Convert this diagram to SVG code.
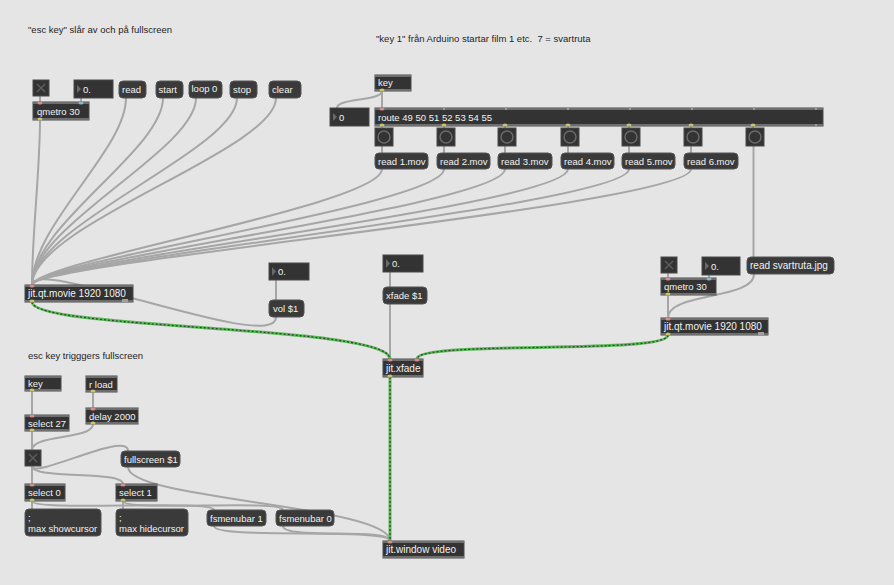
<svg xmlns="http://www.w3.org/2000/svg" width="894" height="585" viewBox="0 0 894 585">
<style>
.bg{fill:#e5e5e5}
.obj{fill:#333333;stroke:#4a4a4a;stroke-width:1}
.strip{fill:#6e6e6e}
.msg{fill:#3a3a3a;stroke:#555555;stroke-width:1}
.num{fill:#333333;stroke:#4a4a4a;stroke-width:1}
.tri{fill:#6a6a6a}
.tog{fill:#333333;stroke:#4a4a4a;stroke-width:1}
.x{stroke:#5e5e5e;stroke-width:1.4}
.bang{fill:#333333;stroke:#4a4a4a;stroke-width:1}
.ring{fill:none;stroke:#6a6a6a;stroke-width:1.5}
.t{font-family:"Liberation Sans",Arial,sans-serif;font-size:9.5px;fill:#f2f2f2}
.tw{font-size:10px}
.c{font-family:"Liberation Sans",Arial,sans-serif;font-size:9.5px;fill:#1e1e1e;white-space:pre}
.in{fill:#d98c8c}
.cin{fill:#8ab8c8}
.out{fill:#c8c46a}
.cord{fill:none;stroke:#a6a6a6;stroke-width:2}
.jit{fill:none;stroke:#5cb85a;stroke-width:3}
.jitd{fill:none;stroke:#2c4a2c;stroke-width:1.3;stroke-dasharray:2 2}
</style>
<rect class="bg" x="0" y="0" width="894" height="585"/>

<g id="connectors">
<path class="cord" d="M40,96 L40,102"/>
<path class="cord" d="M81,98 L81,102"/>
<path class="cord" d="M40,120 C40,170 32,235 32,285"/>
<path class="cord" d="M126,98 C126,150 32,225 32,285"/>
<path class="cord" d="M163,98 C163,150 32,225 32,285"/>
<path class="cord" d="M196,98 C196,150 32,225 32,285"/>
<path class="cord" d="M237,98 C237,150 32,225 32,285"/>
<path class="cord" d="M276,98 C276,150 32,225 32,285"/>
<path class="cord" d="M382,169 C382,205 32,262 32,285"/>
<path class="cord" d="M444,169 C444,205 32,262 32,285"/>
<path class="cord" d="M505,169 C505,205 32,262 32,285"/>
<path class="cord" d="M568,169 C568,205 32,262 32,285"/>
<path class="cord" d="M629,169 C629,205 32,262 32,285"/>
<path class="cord" d="M691,169 C691,205 32,262 32,285"/>
<path class="cord" d="M276,317 C276,355 32,255 32,285"/>
<path class="cord" d="M276,280 L276,300"/>
<path class="cord" d="M390,272 L390,287"/>
<path class="cord" d="M390,304 L390,359"/>
<path class="cord" d="M382,91 L382,108"/>
<path class="cord" d="M382,91 C382,101 337,98 337,108"/>
<path class="cord" d="M382,126 L382,128 M444,126 L444,128 M505,126 L505,128 M568,126 L568,128 M629,126 L629,128 M691,126 L691,128 M753,126 L753,128"/>
<path class="cord" d="M382,146 L382,153 M444,146 L444,153 M505,146 L505,153 M568,146 L568,153 M629,146 L629,153 M691,146 L691,153"/>
<path class="cord" d="M753.5,146 L753.5,257"/>
<path class="cord" d="M754,274 C754,300 668,292 668,318"/>
<path class="cord" d="M668,295 L668,318"/>
<path class="cord" d="M668,273 L668,278"/>
<path class="cord" d="M709,275 L709,278"/>
<path class="cord" d="M32,391 L32,415"/>
<path class="cord" d="M93,392 L93,408"/>
<path class="cord" d="M32,431 L32,450"/>
<path class="cord" d="M93,424 C93,440 32,434 32,450"/>
<path class="cord" d="M32,466 L32,484"/>
<path class="cord" d="M32,466 C32,480 123,470 123,484"/>
<path class="cord" d="M32,466 C32,480 128,430 128,451"/>
<path class="cord" d="M128,467 C128,500 390,505 390,541"/>
<path class="cord" d="M32,501 L32,509"/>
<path class="cord" d="M123,501 L123,509"/>
<path class="cord" d="M32,501 C32,512 214,499 214,510"/>
<path class="cord" d="M123,501 C123,512 283,499 283,510"/>
<path class="cord" d="M214,526 C214,540 390,527 390,541"/>
<path class="cord" d="M283,526 C283,540 390,527 390,541"/>
<path class="jit" d="M32,302 C32,330 390,325 390,359"/>
<path class="jitd" d="M32,302 C32,330 390,325 390,359"/>
<path class="jit" d="M668,335 C668,355 417,340 417,359"/>
<path class="jitd" d="M668,335 C668,355 417,340 417,359"/>
<path class="jit" d="M390,377 L390,541"/>
<path class="jitd" d="M390,377 L390,541"/>
</g>

<g id="comment1"><text class="c" x="28" y="33">"esc key" slår av och på fullscreen</text></g>
<g id="comment2"><text class="c" x="376" y="42" xml:space="preserve">"key 1" från Arduino startar film 1 etc.  7 = svartruta</text></g>
<g id="comment3"><text class="c" x="28" y="359">esc key trigggers fullscreen</text></g>

<g id="toggle1"><rect class="tog" x="33" y="80" width="16" height="16"/><path class="x" d="M37,84 L45,92 M45,84 L37,92"/></g>
<g id="num1"><rect class="num" x="74" y="80" width="39" height="18"/><path class="tri" d="M77,85 L81,89 L77,93 Z"/><text class="t" x="83" y="93">0.</text></g>
<g id="msg-read"><rect class="msg" x="119" y="81" width="27" height="17" rx="4"/><text class="t" x="122" y="93">read</text></g>
<g id="msg-start"><rect class="msg" x="156" y="81" width="27" height="17" rx="4"/><text class="t" x="158.5" y="93">start</text></g>
<g id="msg-loop"><rect class="msg" x="189" y="81" width="33" height="17" rx="4"/><text class="t" x="191.5" y="92">loop 0</text></g>
<g id="msg-stop"><rect class="msg" x="230" y="81" width="27" height="17" rx="4"/><text class="t" x="233" y="93">stop</text></g>
<g id="msg-clear"><rect class="msg" x="269" y="81" width="32" height="17" rx="4"/><text class="t" x="272" y="93">clear</text></g>
<g id="qmetro1"><rect class="obj" x="33" y="102" width="56" height="18"/><rect class="strip" x="33" y="102" width="56" height="2"/><rect class="strip" x="33" y="118" width="56" height="2"/><ellipse class="in" cx="40" cy="103" rx="2.5" ry="1.5"/><ellipse class="cin" cx="81" cy="103" rx="2.5" ry="1.5"/><ellipse class="out" cx="40" cy="119" rx="2.5" ry="1.5"/><text class="t" x="37" y="115">qmetro 30</text></g>

<g id="key1"><rect class="obj" x="375" y="75" width="36" height="16"/><rect class="strip" x="375" y="75" width="36" height="2"/><rect class="strip" x="375" y="89" width="36" height="2"/><ellipse class="out" cx="382" cy="90" rx="2.5" ry="1.5"/><text class="t" x="378" y="86">key</text></g>
<g id="num0"><rect class="num" x="330" y="108" width="39" height="18"/><path class="tri" d="M333,113 L337,117 L333,121 Z"/><text class="t" x="339" y="121">0</text></g>
<g id="route"><rect class="obj" x="375" y="108" width="448" height="18"/><rect class="strip" x="375" y="108" width="448" height="2"/><rect class="strip" x="375" y="124" width="448" height="2"/>
<path d="M443,109 h2 M505,109 h2 M567,109 h2 M629,109 h2 M691,109 h2 M753,109 h2 M815,109 h2 M815,125 h2" stroke="#9a9a9a" stroke-width="2"/>
<ellipse class="in" cx="382" cy="109" rx="2.5" ry="1.5"/>
<ellipse class="out" cx="382" cy="125" rx="2.5" ry="1.5"/><ellipse class="out" cx="444" cy="125" rx="2.5" ry="1.5"/><ellipse class="out" cx="505" cy="125" rx="2.5" ry="1.5"/><ellipse class="out" cx="568" cy="125" rx="2.5" ry="1.5"/><ellipse class="out" cx="629" cy="125" rx="2.5" ry="1.5"/><ellipse class="out" cx="691" cy="125" rx="2.5" ry="1.5"/><ellipse class="out" cx="753" cy="125" rx="2.5" ry="1.5"/>
<text class="t" x="378" y="121">route 49 50 51 52 53 54 55</text></g>

<g id="bang1"><rect class="bang" x="375" y="128" width="18" height="18"/><circle class="ring" cx="384" cy="137" r="6"/></g>
<g id="bang2"><rect class="bang" x="437" y="128" width="18" height="18"/><circle class="ring" cx="446" cy="137" r="6"/></g>
<g id="bang3"><rect class="bang" x="498" y="128" width="18" height="18"/><circle class="ring" cx="507" cy="137" r="6"/></g>
<g id="bang4"><rect class="bang" x="561" y="128" width="18" height="18"/><circle class="ring" cx="570" cy="137" r="6"/></g>
<g id="bang5"><rect class="bang" x="622" y="128" width="18" height="18"/><circle class="ring" cx="631" cy="137" r="6"/></g>
<g id="bang6"><rect class="bang" x="684" y="128" width="18" height="18"/><circle class="ring" cx="693" cy="137" r="6"/></g>
<g id="bang7"><rect class="bang" x="746" y="128" width="18" height="18"/><circle class="ring" cx="755" cy="137" r="6"/></g>

<g id="msg-read1"><rect class="msg" x="375" y="153" width="53" height="16" rx="4"/><text class="t" x="378" y="165">read 1.mov</text></g>
<g id="msg-read2"><rect class="msg" x="437" y="153" width="53" height="16" rx="4"/><text class="t" x="440" y="165">read 2.mov</text></g>
<g id="msg-read3"><rect class="msg" x="498" y="153" width="54" height="16" rx="4"/><text class="t" x="501" y="165">read 3.mov</text></g>
<g id="msg-read4"><rect class="msg" x="561" y="153" width="53" height="16" rx="4"/><text class="t" x="564" y="165">read 4.mov</text></g>
<g id="msg-read5"><rect class="msg" x="622" y="153" width="53" height="16" rx="4"/><text class="t" x="625" y="165">read 5.mov</text></g>
<g id="msg-read6"><rect class="msg" x="684" y="153" width="54" height="16" rx="4"/><text class="t" x="687" y="165">read 6.mov</text></g>

<g id="jqm1"><rect class="obj" x="25" y="285" width="108" height="17"/><rect class="strip" x="25" y="285" width="108" height="2"/><rect class="strip" x="25" y="300" width="108" height="2"/><rect x="122" y="299" width="6" height="3" fill="#a0a0a0"/><ellipse class="in" cx="32" cy="286" rx="2.5" ry="1.5"/><ellipse class="out" cx="32" cy="301" rx="2.5" ry="1.5"/><text class="t tw" x="28" y="297">jit.qt.movie 1920 1080</text></g>
<g id="num-vol"><rect class="num" x="269" y="263" width="40" height="17"/><path class="tri" d="M272,267 L276,271.5 L272,276 Z"/><text class="t" x="278" y="275">0.</text></g>
<g id="msg-vol"><rect class="msg" x="269" y="300" width="35" height="17" rx="4"/><text class="t" x="273" y="312">vol $1</text></g>
<g id="num-xfade"><rect class="num" x="383" y="255" width="40" height="17"/><path class="tri" d="M386,259 L390,263.5 L386,268 Z"/><text class="t" x="392" y="267">0.</text></g>
<g id="msg-xfade"><rect class="msg" x="383" y="287" width="44" height="17" rx="4"/><text class="t" x="386" y="299">xfade $1</text></g>
<g id="jitxfade"><rect class="obj" x="383" y="359" width="40" height="18"/><rect class="strip" x="383" y="359" width="40" height="2"/><rect class="strip" x="383" y="375" width="40" height="2"/><ellipse class="in" cx="390" cy="360" rx="2.5" ry="1.5"/><ellipse class="in" cx="417" cy="360" rx="2.5" ry="1.5"/><ellipse class="out" cx="390" cy="376" rx="2.5" ry="1.5"/><text class="t tw" x="386" y="372">jit.xfade</text></g>

<g id="toggle2"><rect class="tog" x="661" y="257" width="16" height="16"/><path class="x" d="M665,261 L673,269 M673,261 L665,269"/></g>
<g id="num2"><rect class="num" x="702" y="257" width="38" height="18"/><path class="tri" d="M705,262 L709,266 L705,270 Z"/><text class="t" x="711" y="270">0.</text></g>
<g id="msg-svart"><rect class="msg" x="747" y="257" width="87" height="17" rx="4"/><text class="t tw" x="750" y="269">read svartruta.jpg</text></g>
<g id="qmetro2"><rect class="obj" x="661" y="278" width="55" height="17"/><rect class="strip" x="661" y="278" width="55" height="2"/><rect class="strip" x="661" y="293" width="55" height="2"/><ellipse class="in" cx="668" cy="279" rx="2.5" ry="1.5"/><ellipse class="cin" cx="709" cy="279" rx="2.5" ry="1.5"/><ellipse class="out" cx="668" cy="294" rx="2.5" ry="1.5"/><text class="t" x="664" y="290">qmetro 30</text></g>
<g id="jqm2"><rect class="obj" x="661" y="318" width="107" height="17"/><rect class="strip" x="661" y="318" width="107" height="2"/><rect class="strip" x="661" y="333" width="107" height="2"/><rect x="758" y="332" width="6" height="3" fill="#a0a0a0"/><ellipse class="in" cx="668" cy="319" rx="2.5" ry="1.5"/><ellipse class="out" cx="668" cy="334" rx="2.5" ry="1.5"/><text class="t tw" x="664" y="330">jit.qt.movie 1920 1080</text></g>

<g id="key2"><rect class="obj" x="25" y="376" width="36" height="15"/><rect class="strip" x="25" y="376" width="36" height="2"/><rect class="strip" x="25" y="389" width="36" height="2"/><ellipse class="out" cx="32" cy="390" rx="2.5" ry="1.5"/><text class="t" x="28" y="387">key</text></g>
<g id="rload"><rect class="obj" x="86" y="376" width="31" height="16"/><rect class="strip" x="86" y="376" width="31" height="2"/><rect class="strip" x="86" y="390" width="31" height="2"/><ellipse class="out" cx="93" cy="391" rx="2.5" ry="1.5"/><text class="t" x="89" y="388">r load</text></g>
<g id="select27"><rect class="obj" x="25" y="415" width="44" height="16"/><rect class="strip" x="25" y="415" width="44" height="2"/><rect class="strip" x="25" y="429" width="44" height="2"/><ellipse class="in" cx="32" cy="416" rx="2.5" ry="1.5"/><ellipse class="out" cx="32" cy="430" rx="2.5" ry="1.5"/><text class="t" x="28" y="427">select 27</text></g>
<g id="delay"><rect class="obj" x="86" y="408" width="52" height="16"/><rect class="strip" x="86" y="408" width="52" height="2"/><rect class="strip" x="86" y="422" width="52" height="2"/><ellipse class="in" cx="93" cy="409" rx="2.5" ry="1.5"/><ellipse class="out" cx="93" cy="423" rx="2.5" ry="1.5"/><text class="t" x="89" y="420">delay 2000</text></g>
<g id="toggle3"><rect class="tog" x="25" y="450" width="16" height="16"/><path class="x" d="M29,454 L37,462 M37,454 L29,462"/></g>
<g id="msg-fullscreen"><rect class="msg" x="121" y="451" width="59" height="16" rx="4"/><text class="t" x="124" y="463">fullscreen $1</text></g>
<g id="select0"><rect class="obj" x="25" y="484" width="40" height="17"/><rect class="strip" x="25" y="484" width="40" height="2"/><rect class="strip" x="25" y="499" width="40" height="2"/><ellipse class="in" cx="32" cy="485" rx="2.5" ry="1.5"/><ellipse class="out" cx="32" cy="500" rx="2.5" ry="1.5"/><text class="t" x="28" y="496">select 0</text></g>
<g id="select1"><rect class="obj" x="116" y="484" width="41" height="17"/><rect class="strip" x="116" y="484" width="41" height="2"/><rect class="strip" x="116" y="499" width="41" height="2"/><ellipse class="in" cx="123" cy="485" rx="2.5" ry="1.5"/><ellipse class="out" cx="123" cy="500" rx="2.5" ry="1.5"/><text class="t" x="119" y="496">select 1</text></g>
<g id="msg-showcursor"><rect class="msg" x="25" y="509" width="76" height="27" rx="4"/><text class="t" x="28" y="521">;</text><text class="t" x="28" y="532">max showcursor</text></g>
<g id="msg-hidecursor"><rect class="msg" x="116" y="509" width="72" height="27" rx="4"/><text class="t" x="119" y="521">;</text><text class="t" x="119" y="532">max hidecursor</text></g>
<g id="msg-fsmenubar1"><rect class="msg" x="207" y="510" width="59" height="16" rx="4"/><text class="t" x="210" y="522">fsmenubar 1</text></g>
<g id="msg-fsmenubar0"><rect class="msg" x="276" y="510" width="58" height="16" rx="4"/><text class="t" x="279" y="522">fsmenubar 0</text></g>
<g id="jitwindow"><rect class="obj" x="383" y="541" width="81" height="17"/><rect class="strip" x="383" y="541" width="81" height="2"/><rect class="strip" x="383" y="556" width="81" height="2"/><ellipse class="in" cx="390" cy="542" rx="2.5" ry="1.5"/><text class="t tw" x="386" y="553">jit.window video</text></g>
</svg>
